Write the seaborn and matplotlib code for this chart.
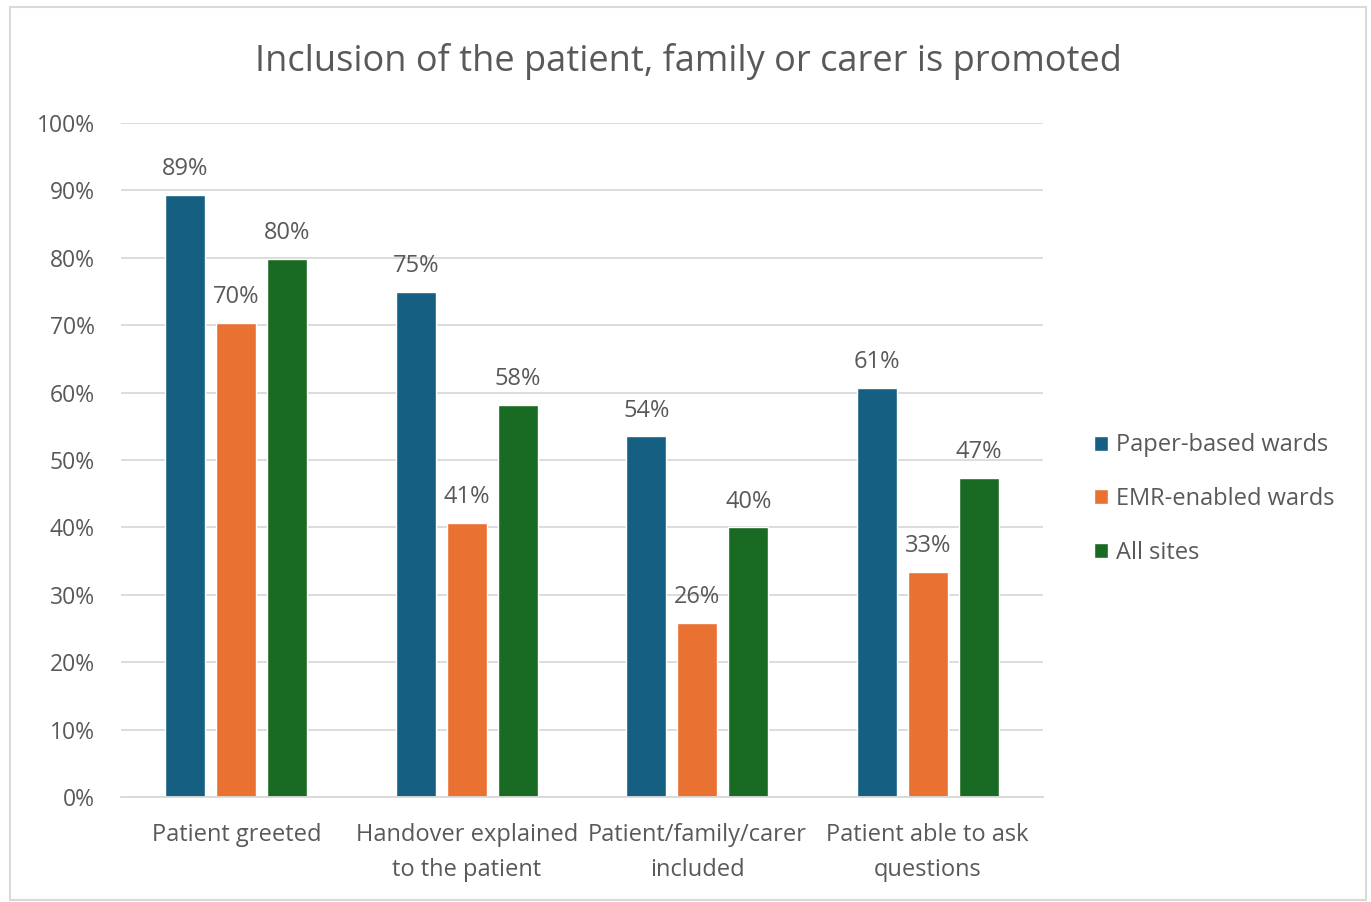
import matplotlib
matplotlib.use("Agg")
import matplotlib.pyplot as plt
from matplotlib.patches import Rectangle
import seaborn as sns
import pandas as pd

categories = ["Patient greeted", "Handover explained\nto the patient",
              "Patient/family/carer\nincluded", "Patient able to ask\nquestions"]
series_names = ["Paper-based wards", "EMR-enabled wards", "All sites"]
paper_based = [0.893, 0.750, 0.535, 0.607]
emr_enabled = [0.703, 0.407, 0.258, 0.334]
all_sites = [0.798, 0.582, 0.400, 0.473]
y_ticks = [0, 0.1, 0.2, 0.3, 0.4, 0.5, 0.6, 0.7, 0.8, 0.9, 1.0]
colors = ["#156082", "#E97132", "#196B24"]

df = pd.DataFrame({
    "category": categories * 3,
    "series": [s for s in series_names for _ in categories],
    "value": paper_based + emr_enabled + all_sites,
})

sns.set_theme(style="white")
plt.rcParams["font.family"] = ["Open Sans", "DejaVu Sans"]
text_color = "#595959"

fig = plt.figure(figsize=(13.71, 9.02), dpi=100)
ax = fig.add_axes([121 / 1371, 1 - 797 / 902, 922 / 1371, 674 / 902])

sns.barplot(data=df, x="category", y="value", hue="series", order=categories,
            hue_order=series_names, palette=colors, width=0.664, gap=0.22,
            saturation=1, ax=ax, legend=True)

ax.set_ylim(0, 1.0)
ax.set_xlim(-0.5, 3.5)
ax.set_yticks(y_ticks)
ax.set_yticklabels([f"{int(round(t * 100))}%" for t in y_ticks])
ax.yaxis.grid(True, color="#D9D9D9", linewidth=1.3)
ax.set_axisbelow(True)
for side in ["top", "right", "left"]:
    ax.spines[side].set_visible(False)
ax.spines["bottom"].set_color("#D9D9D9")
ax.spines["bottom"].set_linewidth(1.3)
ax.tick_params(axis="y", length=0, pad=19, labelsize=16.5, labelcolor=text_color)
ax.tick_params(axis="x", length=0, pad=19, labelsize=17, labelcolor=text_color)
for lbl in ax.get_xticklabels():
    lbl.set_linespacing(1.6)
ax.set_xlabel("")
ax.set_ylabel("")

for container in ax.containers:
    ax.bar_label(container, labels=[f"{v * 100:.0f}%" for v in container.datavalues],
                 padding=10, fontsize=17, color=text_color)

ax.legend(loc="center left",
          bbox_to_anchor=((1073 - 121) / 922, (797 - 499) / 674),
          frameon=False, fontsize=17, labelcolor=text_color,
          handlelength=0.6, handleheight=0.6, handletextpad=0.3, labelspacing=1.25)

fig.text(688 / 1371, 1 - 61 / 902, "Inclusion of the patient, family or carer is promoted",
         ha="center", va="center", fontsize=26, color=text_color)

fig.patches.append(Rectangle((10 / 1371, 2 / 902), 1356 / 1371, 893 / 902,
                             transform=fig.transFigure, fill=False,
                             edgecolor="#D9D9D9", linewidth=1.5))

fig.savefig("out.png", dpi=100)
